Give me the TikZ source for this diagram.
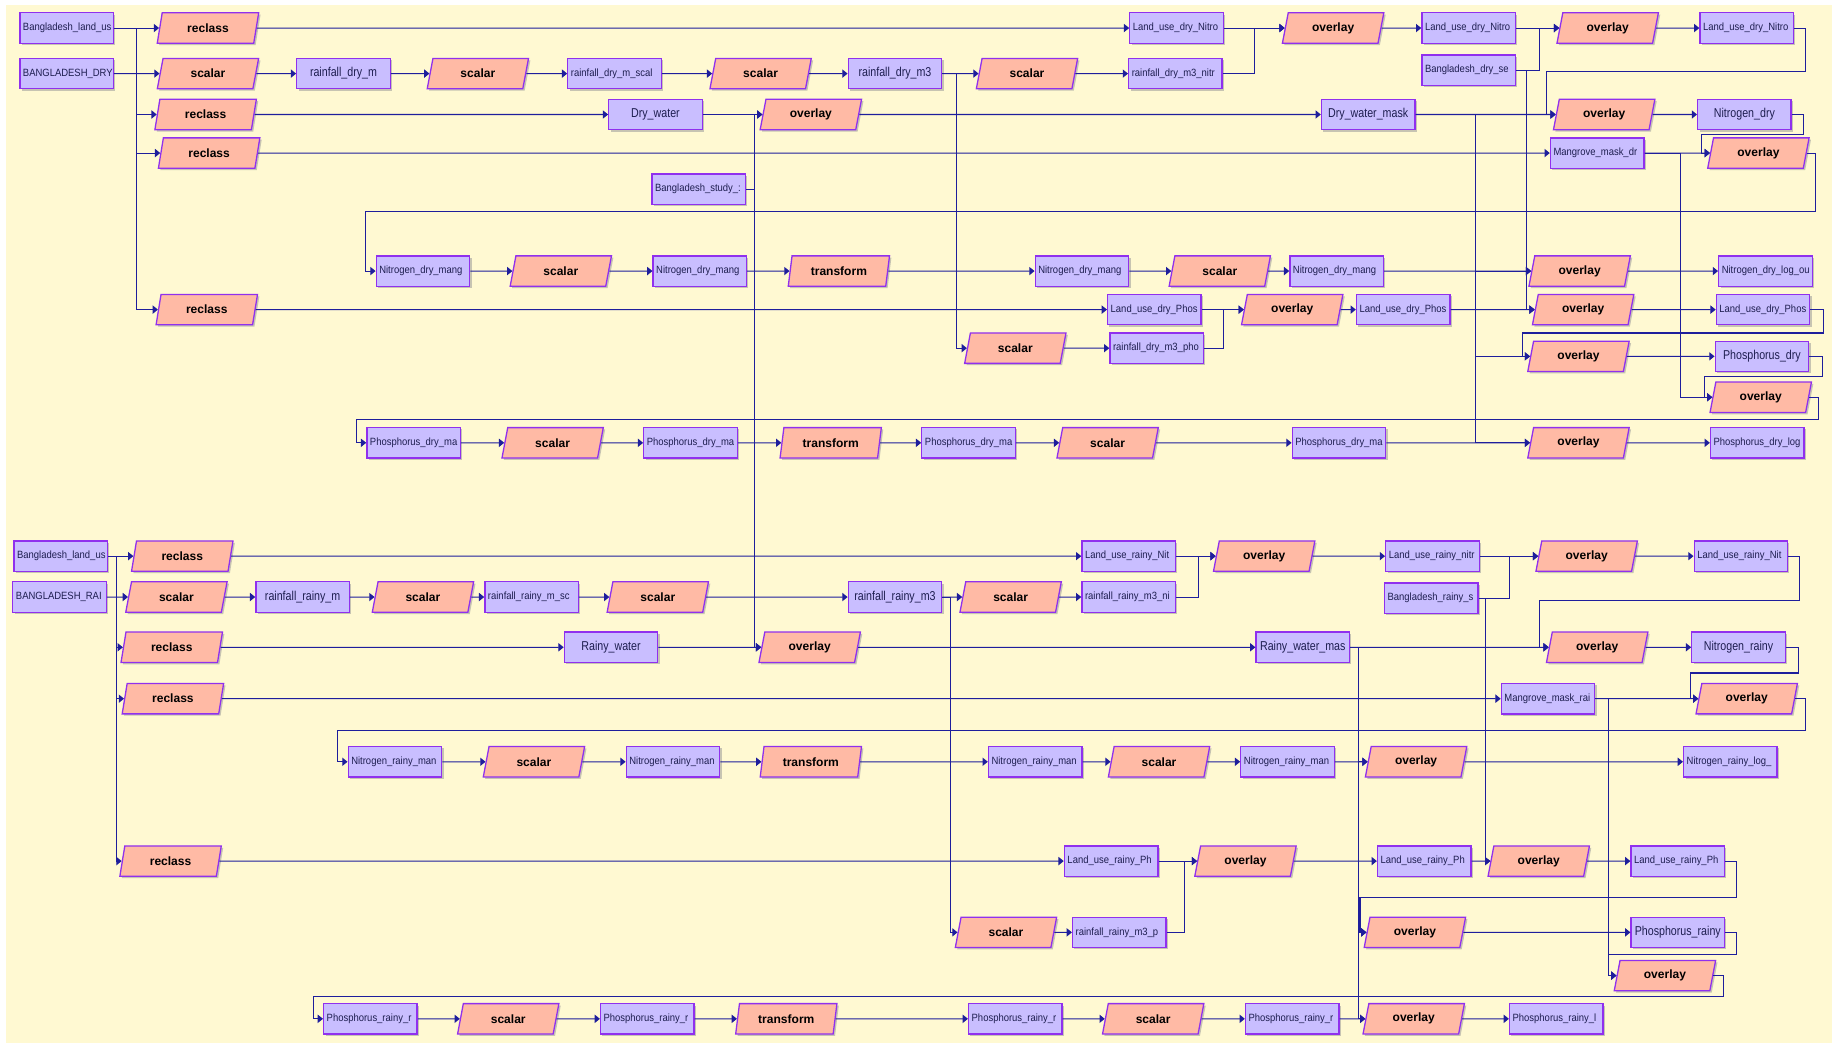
\documentclass[tikz,border=0pt]{standalone}
\usepackage{fontspec}
\setmainfont{Liberation Sans}
\newfontfamily\smallboxfont[FakeStretch=0.9]{Liberation Sans}
\newfontfamily\largeboxfont[FakeStretch=0.83]{Liberation Sans}
\usetikzlibrary{shapes.geometric,arrows.meta,shadows}
\definecolor{bg}{HTML}{FFF9D2}
\definecolor{dfill}{HTML}{C9BEFF}
\definecolor{tfill}{HTML}{FFBAA5}
\definecolor{edge}{HTML}{9030EE}
\definecolor{wire}{HTML}{1E1E9C}
\definecolor{dtext}{HTML}{1E1E50}
\tikzset{
  shd/.style={drop shadow={shadow xshift=1.6pt,shadow yshift=-1.6pt,fill=black!40,opacity=0.55}},
  dat/.style={draw=edge, fill=dfill, line width=1.1pt, minimum width=80pt, minimum height=26pt, inner sep=0pt, shd},
  tl/.style={trapezium, trapezium left angle=78, trapezium right angle=102, trapezium stretches=true,
     draw=edge, fill=tfill, line width=1.1pt, minimum width=87pt, minimum height=26pt, inner sep=1pt,
     font=\fontsize{10.3}{12}\selectfont\bfseries, shd},
  ln/.style={draw=wire, line width=0.9pt, -{Triangle[length=4.5pt,width=7pt]}},
}
\newcommand\mkds[4]{%
  \node[dat] (#1) at (#2,#3) {};
  \begin{scope}
    \clip ([xshift=1pt]#1.south west) rectangle ([xshift=-1.3pt]#1.north east);
    \node[anchor=west, inner sep=0pt, text=dtext, font=\smallboxfont\fontsize{9}{10}\selectfont] at ([xshift=3pt]#1.west) {#4};
  \end{scope}}
\newcommand\mkdl[4]{%
  \node[dat] (#1) at (#2,#3) {};
  \begin{scope}
    \clip ([xshift=1pt]#1.south west) rectangle ([xshift=-1.3pt]#1.north east);
    \node[inner sep=0pt, text=dtext, font=\largeboxfont\fontsize{11}{12}\selectfont] at (#1.center) {#4};
  \end{scope}}
\newcommand\mktool[4]{\node[tl] (#1) at (#2,#3) {#4};}
\begin{document}
\begin{tikzpicture}[x=1pt,y=-1pt]
\useasboundingbox (0,0) rectangle (1568,893);
\fill[white] (0,0) rectangle (1568,893);
\fill[bg] (5,4) rectangle (1568,893);

% ================= DRY =================
\mkds{dlu}{57}{24}{Bangladesh\_land\_us}
\mkds{drain}{57}{63}{BANGLADESH\_DRY}
\mktool{rcA}{178}{24}{reclass}
\mktool{scA}{178}{63}{scalar}
\mkdl{rdm}{294}{63}{rainfall\_dry\_m}
\mktool{scB}{409}{63}{scalar}
\mkds{rdms}{526}{63}{rainfall\_dry\_m\_scal}
\mktool{scC}{651}{63}{scalar}
\mkdl{rdmt}{766}{63}{rainfall\_dry\_m3}
\mktool{scD}{879}{63}{scalar}
\mkds{rdmtn}{1006}{63}{rainfall\_dry\_m3\_nitr}
\mkds{lunA}{1007}{24}{Land\_use\_dry\_Nitro}
\mktool{ovA}{1141}{24}{overlay}
\mkds{lunB}{1257}{24}{Land\_use\_dry\_Nitro}
\mkds{bds}{1257}{60}{Bangladesh\_dry\_se}
\mktool{ovB}{1376}{24}{overlay}
\mkds{lunC}{1495}{24}{Land\_use\_dry\_Nitro}
\mktool{rcB}{176}{98}{reclass}
\mkdl{dw}{561}{98}{Dry\_water}
\mkds{bst}{598}{162}{Bangladesh\_study\_:}
\mktool{ovC}{694}{98}{overlay}
\mkdl{dwm}{1171}{98}{Dry\_water\_mask}
\mktool{ovD}{1373}{98}{overlay}
\mkdl{nd}{1493}{98}{Nitrogen\_dry}
\mktool{rcC}{179}{131}{reclass}
\mkds{mmd}{1367}{131}{Mangrove\_mask\_dr}
\mktool{ovE}{1505}{131}{overlay}
\mkds{nmA}{362}{232}{Nitrogen\_dry\_mang}
\mktool{scE}{480}{232}{scalar}
\mkds{nmB}{599}{232}{Nitrogen\_dry\_mang}
\mktool{tfA}{718}{232}{transform}
\mkds{nmC}{926}{232}{Nitrogen\_dry\_mang}
\mktool{scF}{1044}{232}{scalar}
\mkds{nmD}{1144}{232}{Nitrogen\_dry\_mang}
\mktool{ovF}{1352}{232}{overlay}
\mkds{ndl}{1511}{232}{Nitrogen\_dry\_log\_ou}
\mktool{rcD}{177}{265}{reclass}
\mkds{lupA}{988}{265}{Land\_use\_dry\_Phos}
\mktool{ovG}{1106}{265}{overlay}
\mkds{lupB}{1201}{265}{Land\_use\_dry\_Phos}
\mktool{ovH}{1355}{265}{overlay}
\mkds{lupC}{1509}{265}{Land\_use\_dry\_Phos}
\mktool{scG}{869}{298}{scalar}
\mkds{rdmtp}{990}{298}{rainfall\_dry\_m3\_pho}
\mktool{ovI}{1351}{305}{overlay}
\mkdl{pd}{1508}{305}{Phosphorus\_dry}
\mktool{ovJ}{1507}{340}{overlay}
\mkds{pmA}{354}{379}{Phosphorus\_dry\_ma}
\mktool{scH}{473}{379}{scalar}
\mkds{pmB}{591}{379}{Phosphorus\_dry\_ma}
\mktool{tfB}{711}{379}{transform}
\mkds{pmC}{829}{379}{Phosphorus\_dry\_ma}
\mktool{scI}{948}{379}{scalar}
\mkds{pmD}{1146}{379}{Phosphorus\_dry\_ma}
\mktool{ovK}{1351}{379}{overlay}
\mkds{pdl}{1504}{379}{Phosphorus\_dry\_log}

% ================= RAINY =================
\mkds{elu}{52}{476}{Bangladesh\_land\_us}
\mkds{erain}{51}{511}{BANGLADESH\_RAI}
\mktool{rrA}{156}{476}{reclass}
\mktool{ssA}{151}{511}{scalar}
\mkdl{rrm}{259}{511}{rainfall\_rainy\_m}
\mktool{ssB}{362}{511}{scalar}
\mkds{rrms}{455}{511}{rainfall\_rainy\_m\_sc}
\mktool{ssC}{563}{511}{scalar}
\mkdl{rrmt}{766}{511}{rainfall\_rainy\_m3}
\mktool{ssD}{865}{511}{scalar}
\mkds{rrmtn}{966}{511}{rainfall\_rainy\_m3\_ni}
\mkds{lrnA}{966}{476}{Land\_use\_rainy\_Nit}
\mktool{ovL}{1082}{476}{overlay}
\mkds{lrnB}{1226}{476}{Land\_use\_rainy\_nitr}
\mkds{brs}{1225}{512}{Bangladesh\_rainy\_s}
\mktool{ovM}{1358}{476}{overlay}
\mkds{lrnC}{1490}{476}{Land\_use\_rainy\_Nit}
\mktool{rrB}{147}{554}{reclass}
\mkdl{rw}{523}{554}{Rainy\_water}
\mktool{ovN}{693}{554}{overlay}
\mkdl{rwm}{1115}{554}{Rainy\_water\_mas}
\mktool{ovO}{1367}{554}{overlay}
\mkdl{nr}{1488}{554}{Nitrogen\_rainy}
\mktool{rrC}{148}{598}{reclass}
\mkds{mmr}{1325}{598}{Mangrove\_mask\_rai}
\mktool{ovP}{1495}{598}{overlay}
\mkds{nrmA}{338}{652}{Nitrogen\_rainy\_man}
\mktool{ssE}{457}{652}{scalar}
\mkds{nrmB}{576}{652}{Nitrogen\_rainy\_man}
\mktool{tfC}{694}{652}{transform}
\mkds{nrmC}{886}{652}{Nitrogen\_rainy\_man}
\mktool{ssF}{992}{652}{scalar}
\mkds{nrmD}{1102}{652}{Nitrogen\_rainy\_man}
\mktool{ovQ}{1212}{652}{overlay}
\mkds{nrl}{1481}{652}{Nitrogen\_rainy\_log\_}
\mktool{rrD}{146}{737}{reclass}
\mkds{lrpA}{951}{737}{Land\_use\_rainy\_Ph}
\mktool{ovR}{1066}{737}{overlay}
\mkds{lrpB}{1219}{737}{Land\_use\_rainy\_Ph}
\mktool{ovS}{1317}{737}{overlay}
\mkds{lrpC}{1436}{737}{Land\_use\_rainy\_Ph}
\mktool{ssG}{861}{798}{scalar}
\mkds{rrmtp}{958}{798}{rainfall\_rainy\_m3\_p}
\mktool{ovT}{1211}{798}{overlay}
\mkdl{pr}{1436}{798}{Phosphorus\_rainy}
\mktool{ovU}{1425}{835}{overlay}
\mkds{prA}{317}{872}{Phosphorus\_rainy\_r}
\mktool{ssH}{435}{872}{scalar}
\mkds{prB}{554}{872}{Phosphorus\_rainy\_r}
\mktool{tfD}{673}{872}{transform}
\mkds{prC}{869}{872}{Phosphorus\_rainy\_r}
\mktool{ssI}{987}{872}{scalar}
\mkds{prD}{1106}{872}{Phosphorus\_rainy\_r}
\mktool{ovV}{1210}{872}{overlay}
\mkds{prl}{1332}{872}{Phosphorus\_rainy\_l}

% ================= DRY connectors =================
\foreach \t in {rcA,rcB,rcC,rcD} \draw[ln] (dlu.east) -- ++(19,0) |- (\t.west);
\draw[ln] (drain.east) -- (scA.west);
\draw[ln] (scA.east) -- (rdm.west);
\draw[ln] (rdm.east) -- (scB.west);
\draw[ln] (scB.east) -- (rdms.west);
\draw[ln] (rdms.east) -- (scC.west);
\draw[ln] (scC.east) -- (rdmt.west);
\draw[ln] (rdmt.east) -- (scD.west);
\draw[ln] (scD.east) -- (rdmtn.west);
\draw[ln] (rdmt.east) -- ++(12,0) |- (scG.west);
\draw[ln] (scG.east) -- (rdmtp.west);
\draw[ln] (rcA.east) -- (lunA.west);
\draw[ln] (lunA.east) -- ++(26,0) |- (ovA.west);
\draw[ln] (rdmtn.east) -- ++(27,0) |- (ovA.west);
\draw[ln] (ovA.east) -- (lunB.west);
\draw[ln] (lunB.east) -- ++(20,0) |- (ovB.west);
\draw[ln] (bds.east) -- ++(20,0) |- (ovB.west);
\draw[ln] (ovB.east) -- (lunC.west);
\draw[ln] (lunC.east) -- ++(10,0) |- (1324,61) |- (ovD.west);
\draw[ln] (rcB.east) -- (dw.west);
\draw[ln] (dw.east) -- ++(45,0) |- (ovC.west);
\draw[ln] (bst.east) -- ++(7,0) |- (ovC.west);
\draw[ln] (bst.east) -- ++(7,0) |- (ovN.west);
\draw[ln] (ovC.east) -- (dwm.west);
\draw[ln] (dwm.east) -- (ovD.west);
\draw[ln] (dwm.east) -- ++(51,0) |- (ovF.west);
\draw[ln] (dwm.east) -- ++(51,0) |- (ovI.west);
\draw[ln] (dwm.east) -- ++(51,0) |- (ovK.west);
\draw[ln] (rcC.east) -- (mmd.west);
\draw[ln] (mmd.east) -- (ovE.west);
\draw[ln] (mmd.east) -- ++(31,0) |- (ovJ.west);
\draw[ln] (ovD.east) -- (nd.west);
\draw[ln] (nd.east) -- ++(10,0) |- (1456,115) |- (ovE.west);
\draw[ln] (ovE.east) -- ++(7,0) |- (313,181) |- (nmA.west);
\draw[ln] (nmA.east) -- (scE.west);
\draw[ln] (scE.east) -- (nmB.west);
\draw[ln] (nmB.east) -- (tfA.west);
\draw[ln] (tfA.east) -- (nmC.west);
\draw[ln] (nmC.east) -- (scF.west);
\draw[ln] (scF.east) -- (nmD.west);
\draw[ln] (nmD.east) -- (ovF.west);
\draw[ln] (ovF.east) -- (ndl.west);
\draw[ln] (rcD.east) -- (lupA.west);
\draw[ln] (lupA.east) -- ++(19,0) |- (ovG.west);
\draw[ln] (rdmtp.east) -- ++(17,0) |- (ovG.west);
\draw[ln] (ovG.east) -- (lupB.west);
\draw[ln] (lupB.east) -- (ovH.west);
\draw[ln] (bds.east) -- ++(9,0) |- (ovH.west);
\draw[ln] (ovH.east) -- (lupC.west);
\draw[ln] (lupC.east) -- ++(11,0) |- (1303,285) |- (ovI.west);
\draw[ln] (ovI.east) -- (pd.west);
\draw[ln] (pd.east) -- ++(11,0) |- (1459,322) |- (ovJ.west);
\draw[ln] (ovJ.east) -- ++(8,0) |- (305,359) |- (pmA.west);
\draw[ln] (pmA.east) -- (scH.west);
\draw[ln] (scH.east) -- (pmB.west);
\draw[ln] (pmB.east) -- (tfB.west);
\draw[ln] (tfB.east) -- (pmC.west);
\draw[ln] (pmC.east) -- (scI.west);
\draw[ln] (scI.east) -- (pmD.west);
\draw[ln] (pmD.east) -- (ovK.west);
\draw[ln] (ovK.east) -- (pdl.west);

% ================= RAINY connectors =================
\foreach \t in {rrA,rrB,rrC,rrD} \draw[ln] (elu.east) -- ++(7,0) |- (\t.west);
\draw[ln] (erain.east) -- (ssA.west);
\draw[ln] (ssA.east) -- (rrm.west);
\draw[ln] (rrm.east) -- (ssB.west);
\draw[ln] (ssB.east) -- (rrms.west);
\draw[ln] (rrms.east) -- (ssC.west);
\draw[ln] (ssC.east) -- (rrmt.west);
\draw[ln] (rrmt.east) -- (ssD.west);
\draw[ln] (ssD.east) -- (rrmtn.west);
\draw[ln] (rrmt.east) -- ++(7,0) |- (ssG.west);
\draw[ln] (ssG.east) -- (rrmtp.west);
\draw[ln] (rrA.east) -- (lrnA.west);
\draw[ln] (lrnA.east) -- ++(19,0) |- (ovL.west);
\draw[ln] (rrmtn.east) -- ++(19,0) |- (ovL.west);
\draw[ln] (ovL.east) -- (lrnB.west);
\draw[ln] (lrnB.east) -- ++(25,0) |- (ovM.west);
\draw[ln] (brs.east) -- ++(26,0) |- (ovM.west);
\draw[ln] (brs.east) -- ++(6,0) |- (ovS.west);
\draw[ln] (ovM.east) -- (lrnC.west);
\draw[ln] (lrnC.east) -- ++(10,0) |- (1318,514) |- (ovO.west);
\draw[ln] (rrB.east) -- (rw.west);
\draw[ln] (rw.east) -- (ovN.west);
\draw[ln] (ovN.east) -- (rwm.west);
\draw[ln] (rwm.east) -- (ovO.west);
\draw[ln] (rwm.east) -- ++(7,0) |- (ovQ.west);
\draw[ln] (rwm.east) -- ++(7,0) |- (ovT.west);
\draw[ln] (rwm.east) -- ++(7,0) |- (ovV.west);
\draw[ln] (rrC.east) -- (mmr.west);
\draw[ln] (mmr.east) -- (ovP.west);
\draw[ln] (mmr.east) -- ++(11,0) |- (ovU.west);
\draw[ln] (ovO.east) -- (nr.west);
\draw[ln] (nr.east) -- ++(11,0) |- (1447,576) |- (ovP.west);
\draw[ln] (ovP.east) -- ++(9,0) |- (289,625) |- (nrmA.west);
\draw[ln] (nrmA.east) -- (ssE.west);
\draw[ln] (ssE.east) -- (nrmB.west);
\draw[ln] (nrmB.east) -- (tfC.west);
\draw[ln] (tfC.east) -- (nrmC.west);
\draw[ln] (nrmC.east) -- (ssF.west);
\draw[ln] (ssF.east) -- (nrmD.west);
\draw[ln] (nrmD.east) -- (ovQ.west);
\draw[ln] (ovQ.east) -- (nrl.west);
\draw[ln] (rrD.east) -- (lrpA.west);
\draw[ln] (lrpA.east) -- ++(22,0) |- (ovR.west);
\draw[ln] (rrmtp.east) -- ++(15,0) |- (ovR.west);
\draw[ln] (ovR.east) -- (lrpB.west);
\draw[ln] (lrpB.east) -- (ovS.west);
\draw[ln] (ovS.east) -- (lrpC.west);
\draw[ln] (lrpC.east) -- ++(10,0) |- (1164,768) |- (ovT.west);
\draw[ln] (ovT.east) -- (pr.west);
\draw[ln] (pr.east) -- ++(10,0) |- (1377,817) |- (ovU.west);
\draw[ln] (ovU.east) -- ++(9,0) |- (268,853) |- (prA.west);
\draw[ln] (prA.east) -- (ssH.west);
\draw[ln] (ssH.east) -- (prB.west);
\draw[ln] (prB.east) -- (tfD.west);
\draw[ln] (tfD.east) -- (prC.west);
\draw[ln] (prC.east) -- (ssI.west);
\draw[ln] (ssI.east) -- (prD.west);
\draw[ln] (prD.east) -- (ovV.west);
\draw[ln] (ovV.east) -- (prl.west);
\end{tikzpicture}
\end{document}
